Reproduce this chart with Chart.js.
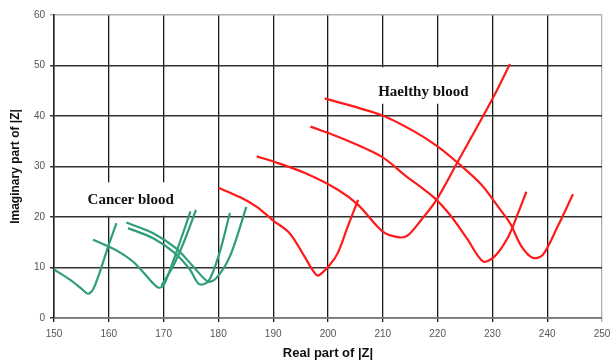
<!DOCTYPE html>
<html>
<head>
<meta charset="utf-8">
<script src="https://cdn.jsdelivr.net/npm/chart.js@4/dist/chart.umd.min.js"></script>
<style>
  html, body { margin: 0; padding: 0; background: #ffffff; }
  #wrap { width: 610px; height: 363px; }
</style>
</head>
<body>
<div id="wrap"><canvas id="c" width="610" height="363"></canvas></div>
<script>
// ---- data ([real, imaginary] pairs) ----
const xTicks = [150, 160, 170, 180, 190, 200, 210, 220, 230, 240, 250];
const yTicks = [0, 10, 20, 30, 40, 50, 60];

const cancer1 = [[150,9.6],[152.9,7.6],[154.9,5.9],[156.2,4.8],[157.1,5.6],[158.3,8.9],[159.9,14.2],[161.4,18.8]];
const cancer2 = [[157.1,15.5],[159.9,14.2],[162.3,12.8],[164.7,10.9],[167.8,7.2],[169.1,6.0],[170.0,6.5],[171.5,10.5],[172.9,14.8],[174.9,21.1]];
const cancer2b = [[169.6,6.4],[171.7,10.2],[173.8,15.3],[175.9,21.4]];
const cancer3 = [[163.2,18.9],[168.1,16.8],[172.3,13.8],[175.4,10.2],[178.1,7.2],[179.6,7.9],[182.1,12.2],[185.1,22.0]];
const cancer4 = [[163.5,17.8],[168.1,15.8],[172.0,12.9],[174.8,9.6],[176.5,6.7],[178.2,7.3],[180.2,12.9],[182.1,20.8]];

const healthy1 = [[180,25.8],[184,23.9],[187,22.0],[190,19.3],[193,16.8],[195.7,12.2],[197.2,9.5],[198.2,8.4],[200.3,10.5],[201.8,12.9],[203.6,18.1],[205.5,23.4]];
const healthy2 = [[187,32.0],[190,31.0],[195.8,28.7],[201.8,25.4],[205.5,22.4],[210,17.1],[212.8,16.0],[214.5,16.3],[217,19.4],[219.8,23.4],[223.7,31.0],[227.4,38.2],[230.4,44.2],[233.2,50.3]];
const healthy3 = [[196.8,37.9],[201.8,35.9],[209.7,32.0],[214,28.3],[219.5,23.7],[222.5,20.1],[225.5,15.5],[228.3,11.2],[230.4,12.2],[232.9,16.1],[234.7,20.8],[236.2,25.0]];
const healthy4 = [[199.4,43.5],[209.7,40.2],[215.8,36.9],[220.1,33.9],[223.7,30.7],[228,26.4],[231,22.1],[233.2,18.8],[235.3,14.2],[237.4,11.9],[239.2,12.5],[241.9,18.1],[244.7,24.5]];

const groupLabels = ["Cancer blood", "Haelthy blood"];
const xTitle = "Real part of |Z|";
const yTitle = "Imaginary part of |Z|";

// ---- chart ----
const GREEN = '#2f9e78';
const RED = '#ff1a1a';
const toPts = arr => arr.map(p => ({x: p[0], y: p[1]}));
const mk = (arr, color) => ({
  data: toPts(arr), borderColor: color, backgroundColor: color,
  borderWidth: 2.2, pointRadius: 0, showLine: true, tension: 0.3, fill: false
});

// text boxes (data position of text centre, box extents in px relative to centre)
const notes = [
  {text: groupLabels[0], x: 164, y: 23.3, up: 18, down: 15.5, pad: 6},
  {text: groupLabels[1], x: 217.4, y: 44.8, up: 24.5, down: 12, pad: 8}
];

const notePlugin = {
  id: 'notes',
  beforeDatasetsDraw(chart) {
    const ctx = chart.ctx;
    const xs = chart.scales.x, ys = chart.scales.y;
    ctx.save();
    ctx.font = 'bold 15px "Liberation Serif", "Times New Roman", serif';
    ctx.textAlign = 'center';
    ctx.textBaseline = 'middle';
    notes.forEach(n => {
      const px = xs.getPixelForValue(n.x), py = ys.getPixelForValue(n.y);
      const w = ctx.measureText(n.text).width;
      ctx.fillStyle = '#ffffff';
      ctx.fillRect(px - w / 2 - n.pad, py - n.up, w + 2 * n.pad, n.up + n.down);
      ctx.fillStyle = '#111111';
      ctx.fillText(n.text, px, py);
    });
    ctx.restore();
  }
};

const tickFont = {family: 'Arial, "Liberation Sans", sans-serif', size: 10};

new Chart(document.getElementById('c'), {
  type: 'scatter',
  data: {
    datasets: [
      mk(cancer1, GREEN), mk(cancer2, GREEN), mk(cancer2b, GREEN), mk(cancer3, GREEN), mk(cancer4, GREEN),
      mk(healthy1, RED), mk(healthy2, RED), mk(healthy3, RED), mk(healthy4, RED)
    ]
  },
  options: {
    responsive: false,
    animation: false,
    devicePixelRatio: 1,
    layout: {padding: {top: 15, right: 8, left: 0, bottom: 0}},
    plugins: {legend: {display: false}, tooltip: {enabled: false}},
    scales: {
      x: {
        type: 'linear', min: xTicks[0], max: xTicks[xTicks.length - 1],
        afterBuildTicks: s => { s.ticks = xTicks.map(v => ({value: v})); },
        afterFit: s => { s.height = 45; s.paddingRight = 0; s.paddingLeft = 0; },
        ticks: {color: '#555', font: tickFont, padding: 6, maxRotation: 0},
        grid: {
          color: c => (c.tick && c.tick.value === 250) ? '#b0b0b0' : '#1a1a1a',
          lineWidth: 1.3, tickLength: 4, drawTicks: true
        },
        border: {color: '#7a7a7a', width: 1.5},
        title: {display: true, text: xTitle, color: '#111',
          font: {family: 'Arial, "Liberation Sans", sans-serif', size: 13, weight: 'bold'},
          padding: {top: 0, bottom: 2}}
      },
      y: {
        type: 'linear', min: yTicks[0], max: yTicks[yTicks.length - 1],
        afterBuildTicks: s => { s.ticks = yTicks.map(v => ({value: v})); },
        afterFit: s => { s.width = 54; s.paddingTop = 0; s.paddingBottom = 0; },
        ticks: {color: '#555', font: tickFont, padding: 5},
        grid: {
          color: c => (c.tick && c.tick.value === 60) ? '#b0b0b0' : '#333333',
          lineWidth: 1.5, tickLength: 4
        },
        border: {color: '#222', width: 1.5},
        title: {display: true, text: yTitle, color: '#111',
          font: {family: 'Arial, "Liberation Sans", sans-serif', size: 12, weight: 'bold'},
          padding: {top: 8.5, bottom: 0}}
      }
    }
  },
  plugins: [notePlugin]
});
</script>
</body>
</html>
